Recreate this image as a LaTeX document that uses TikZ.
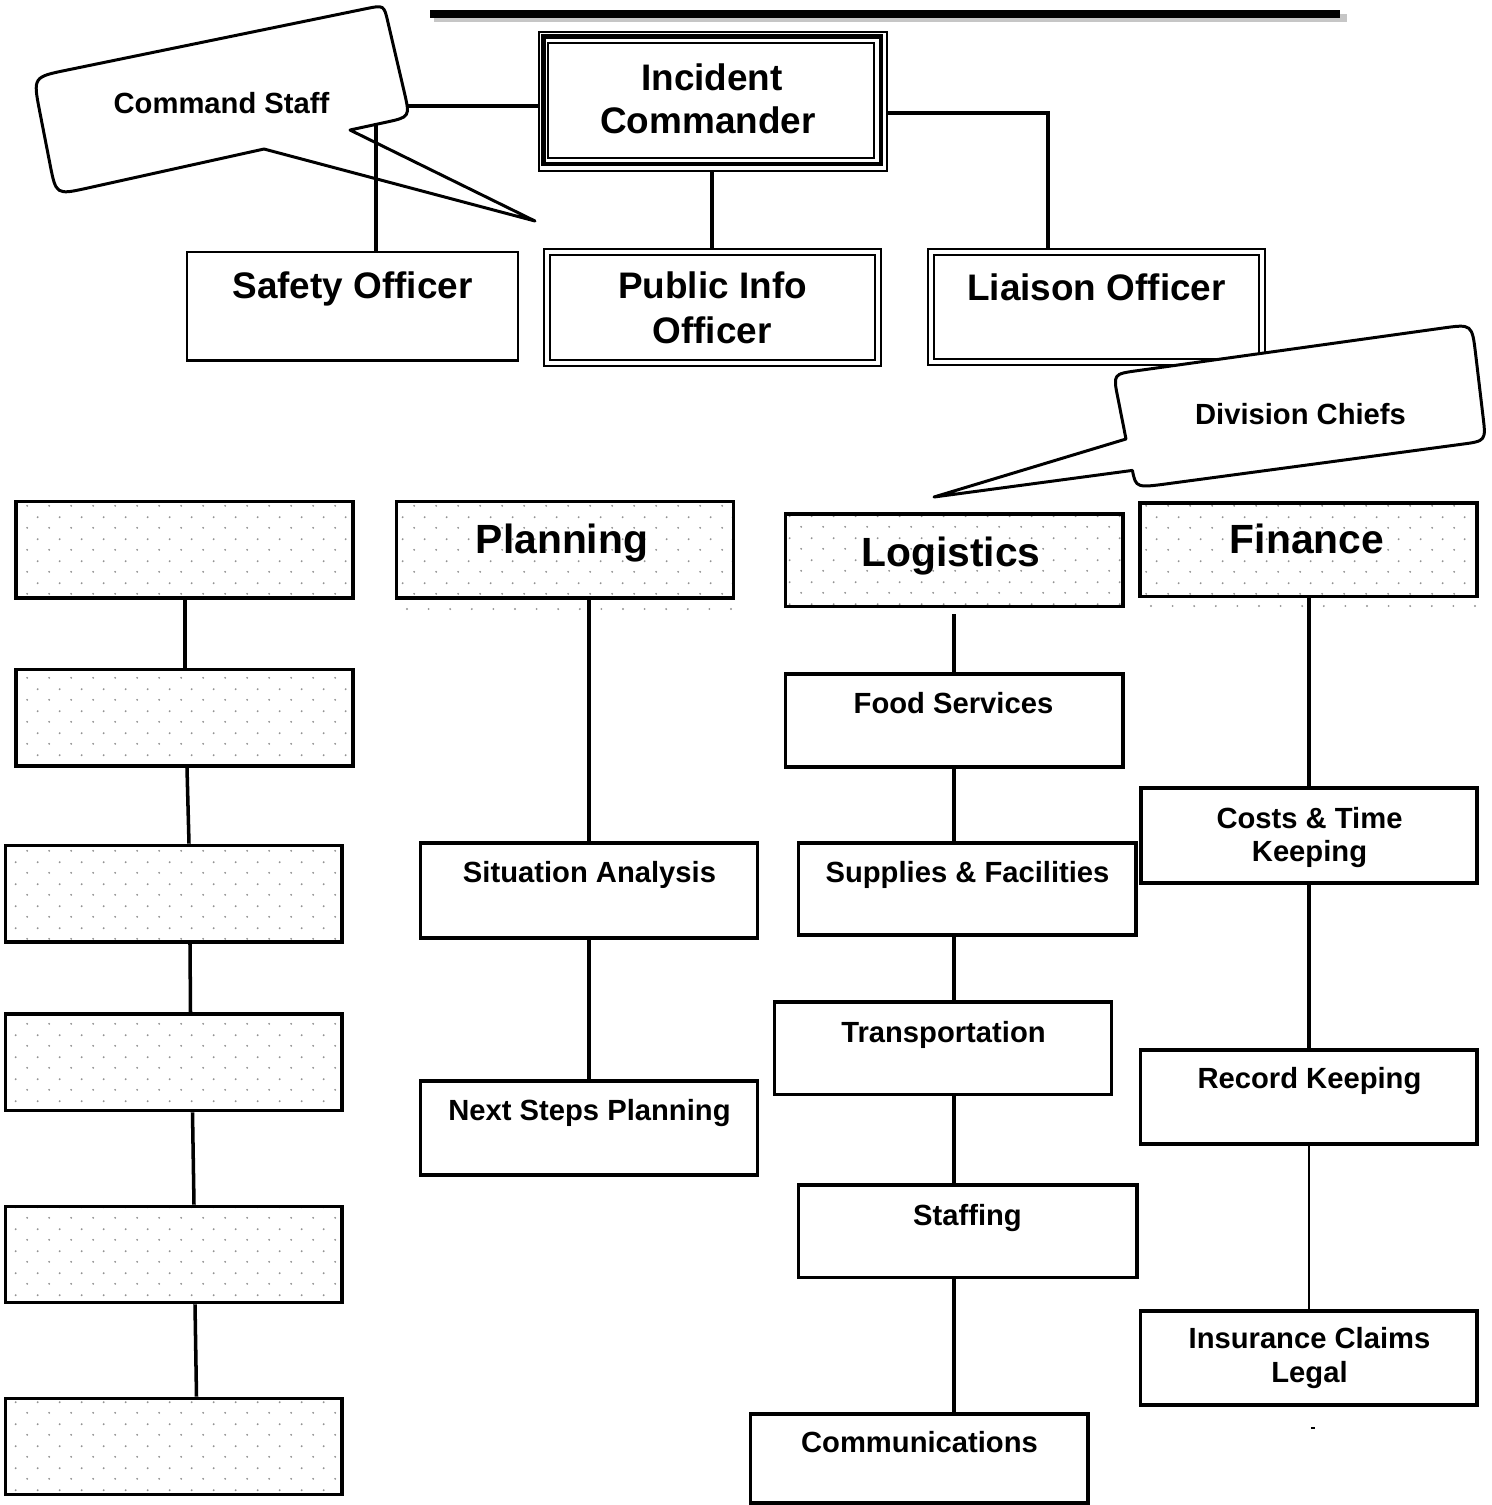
\documentclass[tikz,border=0pt]{standalone}
\usepackage{fontspec}
\setmainfont{Liberation Sans}
\usetikzlibrary{patterns.meta}

\tikzdeclarepattern{
  name=sdots,
  type=uncolored,
  bounding box={(0pt,0pt) and (6.12pt,6.14pt)},
  tile size={(6.12pt,6.14pt)},
  code={
    \pgfpathcircle{\pgfqpoint{1.5pt}{1.5pt}}{0.3pt}
    \pgfpathcircle{\pgfqpoint{4.56pt}{4.57pt}}{0.3pt}
    \pgfusepath{fill}
  }
}

\newcommand\mkbox[6][]{%
  \node[#1, minimum width={(#4-#2)*0.01cm}, minimum height={(#5-#3)*0.01cm}] (#6) at ({(#2+#4)/2},{(#3+#5)/2}) {};}

\begin{document}
\begin{tikzpicture}[x=0.01cm,y=-0.01cm,
  box/.style={draw, line width=1.1pt, fill=white, inner sep=0pt, rectangle},
  dotbox/.style={draw, line width=1.1pt, inner sep=0pt, rectangle, pattern={sdots}, pattern color=gray!85},
  thinbox/.style={draw, line width=0.57pt, inner sep=0pt, rectangle},
  thickbox/.style={draw, line width=1.28pt, inner sep=0pt, rectangle},
  dbox/.style={draw, double, double distance=1.14pt, line width=0.57pt, inner sep=0pt, outer sep=1.14pt, rectangle},
  conn/.style={line width=1pt},
  thinconn/.style={line width=0.55pt},
  bubble/.style={draw, line width=0.85pt, fill=white, line join=round},
  big/.style={font=\fontsize{11.6}{14}\selectfont\bfseries, anchor=base, inner sep=0pt},
  mid/.style={font=\fontsize{10.5}{12.6}\selectfont\bfseries, anchor=base, inner sep=0pt},
  sm/.style={font=\fontsize{8.3}{10}\selectfont\bfseries, anchor=base, inner sep=0pt}]

\useasboundingbox (0,0) rectangle (1492,1505);

% top rule with shadow
\draw[gray!45, line width=2.2pt] (434,18) -- (1347,18);
\draw[line width=2.2pt] (430,14) -- (1340,14);

% ---------- command level ----------
\mkbox[thinbox, fill=white]{538.5}{31.5}{887}{171}{ic}
\mkbox[thickbox]{543.3}{36.7}{880.8}{164.2}{icmid}
\mkbox[thinbox]{548.3}{42.8}{873.7}{157.8}{icin}
\node[mid] (t-ic1) at (712,90) {Incident};
\node[mid] (t-ic2) at (708,133) {Commander};

\mkbox[thinbox, line width=0.7pt]{187}{252}{518}{360.5}{safety}
\node[mid] (t-safety) at (352.5,298) {Safety Officer};

\mkbox[dbox]{547}{252.4}{878}{362.5}{pio}
\node[mid] (t-pio1) at (712.5,298) {Public Info};
\node[mid] (t-pio2) at (712,343) {Officer};

\mkbox[dbox]{930.6}{252.4}{1262.3}{361.7}{liaison}
\node[mid] (t-liaison) at (1096.5,300) {Liaison Officer};

% connectors from Incident Commander
\draw[conn] (ic.west |- 0,106) -| (safety.north -| 376,0);
\draw[conn] (ic.south -| 712,0) -- (pio.north -| 712,0);
\draw[conn] (ic.east |- 0,113) -| (liaison.north -| 1048,0);

% Command Staff callout
\draw[bubble] (39.7,111.4) .. controls (33,77) .. (67.3,70) -- (366.4,8.6)
  .. controls (384,5) .. (388,22.5) -- (404.4,92.6)
  .. controls (410,117) .. (385.6,122.3) -- (350,130) -- (535,221) -- (264,149)
  -- (87.3,188.1) .. controls (56,195) .. (49.9,163.6) -- cycle;
\node[sm] (t-cs) at (221.5,113) {Command Staff};
\coordinate (csnotch) at (376,124);
\draw[conn] (safety.north -| csnotch) -- (csnotch);

% Division Chiefs callout
\draw[bubble] (1118,398.5) .. controls (1113,374) .. (1137.8,370.6) -- (1442.3,328.1)
  .. controls (1472,324) .. (1475.6,353.8) -- (1483,416.2)
  .. controls (1486,441) .. (1461.2,444.3) -- (1170.7,483.3)
  .. controls (1136,488) .. (1132.4,470.4) -- (934,497) -- (1126,439) -- cycle;
\node[sm] (t-dc) at (1300.5,424) {Division Chiefs};

% ---------- left column (blank) ----------
\mkbox[dotbox]{16}{501.5}{353}{597.7}{d1}
\mkbox[dotbox]{16}{669.5}{353}{766}{d2}
\mkbox[dotbox]{5.5}{845.5}{342}{942}{d3}
\mkbox[dotbox]{5.5}{1014}{342}{1110.5}{d4}
\mkbox[dotbox]{5.5}{1206.5}{342}{1302.5}{d5}
\mkbox[dotbox]{5.5}{1398.5}{342}{1494.5}{d6}
\draw[conn] (d1.south -| 185,0) -- (d2.north -| 185,0);
\draw[conn] (d2.south -| 187,0) -- (d3.north -| 189,0);
\draw[conn] (d3.south -| 190,0) -- (d4.north -| 190.5,0);
\draw[conn] (d4.south -| 192.5,0) -- (d5.north -| 194,0);
\draw[conn] (d5.south -| 195,0) -- (d6.north -| 196.5,0);

% ---------- Planning ----------
\mkbox[dotbox]{396.5}{501.5}{733.5}{597.7}{plan}
\node[big] (t-plan) at (562,553) {Planning};
\foreach \i in {0,...,15} \fill[gray!85] ({407+21.6*\i},609) circle (0.3pt);
\mkbox[box]{420.5}{843}{757.5}{938}{sit}
\node[sm] (t-sit) at (589.5,882) {Situation Analysis};
\mkbox[box]{420.5}{1081}{757.5}{1175}{nsp}
\node[sm] (t-nsp) at (589.5,1120) {Next Steps Planning};
\draw[conn] (sit.north |- plan.south) -- (sit.north);
\draw[conn] (sit.south) -- (nsp.north);

% ---------- Logistics ----------
\mkbox[dotbox]{785.5}{514}{1123}{606.5}{logi}
\node[big] (t-logi) at (951,566) {Logistics};
\mkbox[box]{785.5}{674}{1123}{767}{food}
\node[sm] (t-food) at (953.5,713) {Food Services};
\mkbox[box]{798.5}{842.7}{1136}{935}{sup}
\node[sm] (t-sup) at (967.5,882) {Supplies \& Facilities};
\mkbox[box]{774.5}{1002}{1111.5}{1094.5}{trans}
\node[sm] (t-trans) at (943.5,1042.5) {Transportation};
\mkbox[box]{798.5}{1185}{1137}{1277.5}{staff}
\node[sm] (t-staff) at (967.5,1225) {Staffing};
\mkbox[box]{750.5}{1413.6}{1088}{1503}{comm}
\node[sm] (t-comm) at (919.5,1452.5) {Communications};
\coordinate (lx) at (954,614);
\draw[conn] (lx) -- (food.north -| lx);
\draw[conn] (food.south -| lx) -- (sup.north -| lx);
\draw[conn] (sup.south -| lx) -- (trans.north -| lx);
\draw[conn] (trans.south -| lx) -- (staff.north -| lx);
\draw[conn] (staff.south -| lx) -- (comm.north -| lx);

% ---------- Finance ----------
\mkbox[dotbox]{1140}{503}{1477}{596.5}{fin}
\node[big] (t-fin) at (1307,553) {Finance};
\foreach \i in {0,...,15} \fill[gray!85] ({1151+21.6*\i},606) circle (0.3pt);
\mkbox[box]{1141}{788}{1477}{883}{cost}
\node[sm] (t-cost1) at (1309.5,828) {Costs \& Time};
\node[sm] (t-cost2) at (1309.5,861) {Keeping};
\mkbox[box]{1140.5}{1050}{1477}{1144}{rec}
\node[sm] (t-rec) at (1309.5,1088.5) {Record Keeping};
\mkbox[box]{1140.5}{1311}{1477}{1405}{ins}
\node[sm] (t-ins1) at (1309.5,1348.5) {Insurance Claims};
\node[sm] (t-ins2) at (1309.5,1382) {Legal};
\coordinate (fx) at (1309,0);
\draw[conn] (fin.south -| fx) -- (cost.north -| fx);
\draw[conn] (cost.south -| fx) -- (rec.north -| fx);
\draw[thinconn] (rec.south -| fx) -- (ins.north -| fx);
\draw[line width=0.5pt] (1311,1428) -- (1315,1428);

\end{tikzpicture}
\end{document}
